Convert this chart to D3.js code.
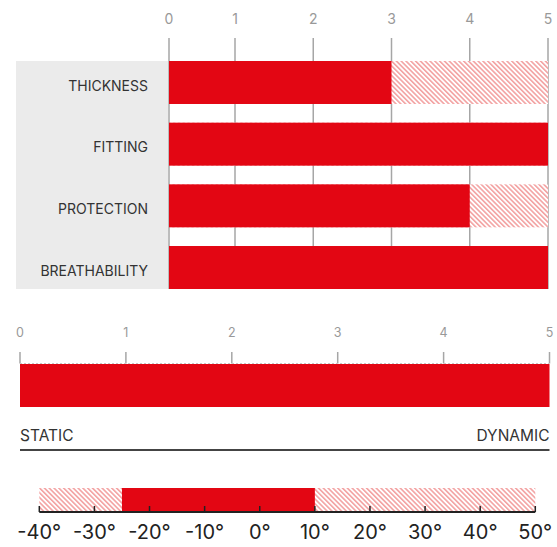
<!DOCTYPE html>
<html>
<head>
<meta charset="utf-8">
<script src="https://cdn.jsdelivr.net/npm/d3@7"></script>
<style>
  html, body { margin: 0; padding: 0; background: #fff; }
  svg { display: block; }
  text { font-family: Inter, "Noto Sans", sans-serif; }
</style>
</head>
<body>
<svg id="chart" width="557" height="547"></svg>
<script>
// ---- data ----
const categories = ["THICKNESS", "FITTING", "PROTECTION", "BREATHABILITY"];
const ratings = [3, 5, 4, 5];
const ratingTicks = [0, 1, 2, 3, 4, 5];

const activityValue = [5];
const activityTicks = [0, 1, 2, 3, 4, 5];
const activityLabels = ["STATIC", "DYNAMIC"];

const tempDomain = [-40, 50];
const tempRange = [-25, 10];
const tempTicks = [-40, -30, -20, -10, 0, 10, 20, 30, 40, 50];

// ---- setup ----
const RED = "#e30613";
const svg = d3.select("#chart");
const defs = svg.append("defs");
const P = 3.4;
const pat = defs.append("pattern")
  .attr("id", "hatch")
  .attr("patternUnits", "userSpaceOnUse")
  .attr("width", P).attr("height", P)
  .attr("patternTransform", "rotate(45)");
pat.append("rect").attr("width", P).attr("height", P).attr("fill", "#fff");
pat.append("line").attr("x1", 0).attr("y1", 0.9).attr("x2", P).attr("y2", 0.9)
  .attr("stroke", "#f3a2a2").attr("stroke-width", 1.6);

// ---- chart 1: ratings ----
const x1 = d3.scaleLinear().domain([0, 1, 5]).range([169, 235, 548]);
const y1 = d3.scaleBand().domain(categories).range([61, 289]).paddingInner(0.303).paddingOuter(0);

const g1 = svg.append("g");
g1.append("rect")
  .attr("x", 16).attr("y", y1.range()[0])
  .attr("width", x1(0) - 1 - 16).attr("height", y1.range()[1] - y1.range()[0])
  .attr("fill", "#ebebeb");

// grid lines
g1.selectAll("line.grid").data(ratingTicks).join("line")
  .attr("class", "grid")
  .attr("x1", d => x1(d)).attr("x2", d => x1(d))
  .attr("y1", 38).attr("y2", y1.range()[1])
  .attr("stroke", "#a6a6a6").attr("stroke-width", 1.5);

// tick labels
g1.selectAll("text.tick").data(ratingTicks).join("text")
  .attr("class", "tick")
  .attr("x", d => x1(d)).attr("y", 24)
  .attr("text-anchor", "middle")
  .attr("font-size", 14).attr("fill", "#999")
  .text(d => d);

// hatched background
g1.selectAll("rect.bg").data(categories).join("rect")
  .attr("class", "bg")
  .attr("x", x1(0)).attr("y", d => y1(d))
  .attr("width", x1(5) - x1(0)).attr("height", y1.bandwidth())
  .attr("fill", "url(#hatch)");

// bars
g1.selectAll("rect.bar").data(ratings).join("rect")
  .attr("class", "bar")
  .attr("x", x1(0)).attr("y", (d, i) => y1(categories[i]))
  .attr("width", d => x1(d) - x1(0)).attr("height", y1.bandwidth())
  .attr("fill", RED);

// category labels
g1.selectAll("text.cat").data(categories).join("text")
  .attr("class", "cat")
  .attr("x", 148).attr("y", d => y1(d) + y1.bandwidth() / 2 + 8.3)
  .attr("text-anchor", "end")
  .attr("font-size", 14).attr("fill", "#333")
  .text(d => d);

// ---- chart 2: activity ----
const x2 = d3.scaleLinear().domain([0, 5]).range([20, 549.5]);
const g2 = svg.append("g");
g2.selectAll("text.tick").data(activityTicks).join("text")
  .attr("class", "tick")
  .attr("x", d => x2(d)).attr("y", 337)
  .attr("text-anchor", "middle")
  .attr("font-size", 12.5).attr("fill", "#999")
  .text(d => d);
g2.selectAll("line.tick").data(activityTicks).join("line")
  .attr("class", "tick")
  .attr("x1", d => x2(d)).attr("x2", d => x2(d))
  .attr("y1", 352).attr("y2", 363.5)
  .attr("stroke", "#a6a6a6").attr("stroke-width", 1.5);
g2.append("line")
  .attr("x1", x2(0)).attr("x2", x2(5)).attr("y1", 363.5).attr("y2", 363.5)
  .attr("stroke", "#c8c8c8").attr("stroke-width", 1).attr("stroke-dasharray", "2,2");
g2.selectAll("rect.bar").data(activityValue).join("rect")
  .attr("class", "bar")
  .attr("x", x2(0)).attr("y", 364)
  .attr("width", d => x2(d) - x2(0)).attr("height", 43)
  .attr("fill", RED);
g2.selectAll("text.lab").data(activityLabels).join("text")
  .attr("class", "lab")
  .attr("x", (d, i) => i === 0 ? x2(0) : x2(5))
  .attr("y", 441)
  .attr("text-anchor", (d, i) => i === 0 ? "start" : "end")
  .attr("font-size", 15.5).attr("fill", "#333")
  .text(d => d);
g2.append("line")
  .attr("x1", x2(0)).attr("x2", x2(5)).attr("y1", 450).attr("y2", 450)
  .attr("stroke", "#444").attr("stroke-width", 2);

// ---- chart 3: temperature ----
const x3 = d3.scaleLinear().domain(tempDomain).range([39.3, 535.3]);
const g3 = svg.append("g");
g3.append("rect")
  .attr("x", x3(tempDomain[0])).attr("y", 488)
  .attr("width", x3(tempDomain[1]) - x3(tempDomain[0])).attr("height", 24)
  .attr("fill", "url(#hatch)");
g3.append("rect")
  .attr("x", x3(tempRange[0])).attr("y", 488)
  .attr("width", x3(tempRange[1]) - x3(tempRange[0])).attr("height", 24)
  .attr("fill", RED);
g3.append("line")
  .attr("x1", x3(tempDomain[0])).attr("x2", x3(tempDomain[1]))
  .attr("y1", 512).attr("y2", 512)
  .attr("stroke", "#222").attr("stroke-width", 2);
g3.selectAll("line.tick").data(tempTicks).join("line")
  .attr("class", "tick")
  .attr("x1", d => x3(d)).attr("x2", d => x3(d))
  .attr("y1", 506).attr("y2", 512)
  .attr("stroke", "#222").attr("stroke-width", 1.5);
g3.selectAll("text.tick").data(tempTicks).join("text")
  .attr("class", "tick")
  .attr("x", d => x3(d)).attr("y", 539)
  .attr("text-anchor", "middle")
  .attr("font-size", 20).attr("fill", "#222")
  .text(d => d + "°");
</script>
</body>
</html>
